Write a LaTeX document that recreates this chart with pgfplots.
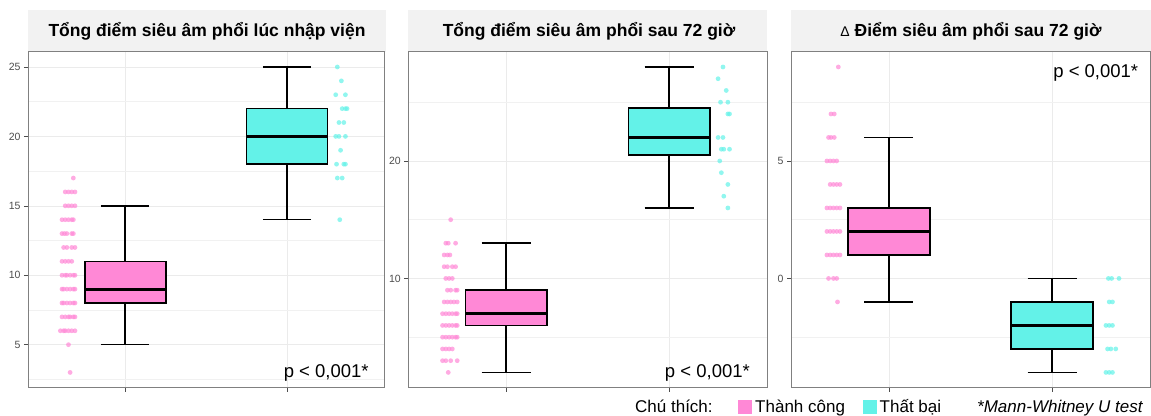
\documentclass[border=0pt]{standalone}
\usepackage{fontspec}
\setmainfont{Liberation Sans}
\usepackage{pgfplots}
\pgfplotsset{compat=1.18}
\usepgfplotslibrary{statistics}
\definecolor{tcpink}{HTML}{FF88D6}
\definecolor{tbcyan}{HTML}{63F2E8}
\definecolor{stripbg}{HTML}{F2F2F2}
\definecolor{panelborder}{HTML}{808080}
\definecolor{gridc}{HTML}{EBEBEB}
\definecolor{tickc}{HTML}{4D4D4D}

\pgfplotsset{
  facet/.style={
    scale only axis, height=336pt, anchor=south west,
    xmin=0.4, xmax=2.6,
    xtick={1,2}, xticklabels={},
    tick pos=left, tick align=outside,
    major tick length=4pt, minor tick length=0pt,
    tick style={draw=tickc, line width=0.6pt},
    axis line style={draw=panelborder, line width=0.8pt},
    grid=both,
    major grid style={draw=gridc, line width=0.6pt},
    minor grid style={draw=gridc!70, line width=0.4pt},
    yticklabel style={font=\fontsize{10.5}{12}\selectfont, text=tickc},
    /pgf/number format/assume math mode=true,
    boxplot/draw direction=y,
  },
  pdot/.style={only marks, mark=*, mark size=2.4pt, color=tcpink,
    mark options={draw opacity=0, fill=tcpink, fill opacity=0.7}},
  cdot/.style={only marks, mark=*, mark size=2.4pt, color=tbcyan,
    mark options={draw opacity=0, fill=tbcyan, fill opacity=0.7}},
  bx/.style={draw=black, line width=1.4pt, solid},
  boxplot/every box/.style={line width=1.7pt},
  boxplot/every whisker/.style={line width=1.4pt},
  boxplot/every median/.style={line width=3pt},
}
\newcommand{\pval}{\fontsize{18.5}{22}\selectfont}
\newcommand{\ttl}{\fontsize{17.5}{20}\selectfont\bfseries}

\begin{document}
\begin{tikzpicture}
\path[use as bounding box] (0pt,0pt) rectangle (1151pt,415pt);

% strips
\fill[stripbg] (28pt,363.3pt) rectangle (385.7pt,405pt);
\fill[stripbg] (408.3pt,363.3pt) rectangle (767pt,405pt);
\fill[stripbg] (791pt,363.3pt) rectangle (1151pt,405pt);
\node[anchor=base, font=\ttl] at (207pt,378.3pt) {Tổng điểm siêu âm phổi lúc nhập viện};
\node[anchor=base, font=\ttl] at (589pt,378.3pt) {Tổng điểm siêu âm phổi sau 72 giờ};
\node[anchor=base, font=\ttl] at (971pt,378.3pt) {{\mdseries\fontsize{14}{16}\selectfont Δ} Điểm siêu âm phổi sau 72 giờ};

% panel 1
\begin{axis}[facet, at={(28pt,27.3pt)}, width=356.3pt,
  ymin=1.9, ymax=26.1, ytick={5,10,15,20,25},
  minor ytick={2.5,7.5,12.5,17.5,22.5}]
\addplot[pdot] coordinates {
 (0.68,17)
 (0.63,16)(0.65,16)(0.67,16)(0.69,16)
 (0.63,15)(0.65,15)(0.67,15)(0.69,15)
 (0.61,14)(0.63,14)(0.65,14)(0.67,14)(0.68,14)
 (0.61,13)(0.625,13)(0.64,13)(0.67,13)(0.68,13)
 (0.62,12)(0.64,12)(0.67,12)(0.69,12)
 (0.61,11)(0.63,11)(0.65,11)(0.67,11)
 (0.61,10)(0.63,10)(0.64,10)(0.66,10)(0.68,10)(0.69,10)
 (0.61,9)(0.62,9)(0.64,9)(0.66,9)(0.68,9)(0.69,9)
 (0.61,8)(0.62,8)(0.64,8)(0.66,8)(0.68,8)(0.69,8)
 (0.61,7)(0.63,7)(0.65,7)(0.66,7)(0.68,7)(0.69,7)
 (0.60,6)(0.62,6)(0.63,6)(0.65,6)(0.67,6)(0.69,6)
 (0.65,5)(0.66,3)};
\addplot[cdot] coordinates {
 (2.31,25)(2.335,24)(2.30,23)(2.36,23)(2.34,22)(2.36,22)(2.37,22)
 (2.32,21)(2.35,21)(2.30,20)(2.32,20)(2.36,20)(2.33,19)
 (2.305,18)(2.35,18)(2.36,18)(2.31,17)(2.34,17)(2.325,14)};
\addplot[bx, fill=tcpink, boxplot prepared={draw position=1,
  lower whisker=5, lower quartile=8, median=9, upper quartile=11,
  upper whisker=15, box extend=0.5, whisker extend=0.3}] coordinates {};
\addplot[bx, fill=tbcyan, boxplot prepared={draw position=2,
  lower whisker=14, lower quartile=18, median=20, upper quartile=22,
  upper whisker=25, box extend=0.5, whisker extend=0.3}] coordinates {};
\node[anchor=base east, font=\pval] at (axis description cs:0.966,0.030) {p < 0,001*};
\end{axis}

% panel 2
\begin{axis}[facet, at={(408.3pt,27.3pt)}, width=358.7pt,
  ymin=0.7, ymax=29.3, ytick={10,20}, minor ytick={5,15,25}]
\addplot[pdot] coordinates {
 (0.66,15)
 (0.63,13)(0.645,13)(0.69,13)
 (0.62,12)(0.64,12)(0.655,12)
 (0.62,11)(0.64,11)(0.67,11)(0.69,11)
 (0.63,10)(0.65,10)(0.67,10)
 (0.64,9)(0.66,9)(0.69,9)(0.70,9)
 (0.62,8)(0.64,8)(0.66,8)(0.68,8)(0.70,8)
 (0.61,7)(0.63,7)(0.65,7)(0.67,7)(0.69,7)(0.70,7)
 (0.61,6)(0.63,6)(0.65,6)(0.67,6)(0.69,6)(0.70,6)
 (0.61,5)(0.63,5)(0.65,5)(0.67,5)(0.69,5)(0.70,5)
 (0.61,4)(0.63,4)(0.65,4)(0.67,4)
 (0.61,3)(0.63,3)(0.66,3)(0.70,3)
 (0.645,2)};
\addplot[cdot] coordinates {
 (2.33,28)(2.30,27)(2.35,26)(2.315,25)(2.36,25)(2.36,24)(2.37,24)
 (2.30,22)(2.33,22)(2.32,21)(2.335,21)(2.37,21)(2.31,20)(2.32,19)
 (2.36,18)(2.335,17)(2.36,16)};
\addplot[bx, fill=tcpink, boxplot prepared={draw position=1,
  lower whisker=2, lower quartile=6, median=7, upper quartile=9,
  upper whisker=13, box extend=0.5, whisker extend=0.3}] coordinates {};
\addplot[bx, fill=tbcyan, boxplot prepared={draw position=2,
  lower whisker=16, lower quartile=20.5, median=22, upper quartile=24.5,
  upper whisker=28, box extend=0.5, whisker extend=0.3}] coordinates {};
\node[anchor=base east, font=\pval] at (axis description cs:0.962,0.030) {p < 0,001*};
\end{axis}

% panel 3
\begin{axis}[facet, at={(791pt,27.3pt)}, width=359pt,
  ymin=-4.65, ymax=9.65, ytick={0,5}, minor ytick={-2.5,2.5,7.5}]
\addplot[pdot] coordinates {
 (0.69,9)
 (0.645,7)(0.665,7)
 (0.63,6)(0.645,6)(0.665,6)
 (0.62,5)(0.64,5)(0.66,5)(0.68,5)
 (0.64,4)(0.66,4)(0.68,4)(0.70,4)
 (0.62,3)(0.64,3)(0.66,3)(0.68,3)(0.70,3)
 (0.62,2)(0.64,2)(0.66,2)(0.68,2)(0.70,2)
 (0.62,1)(0.64,1)(0.66,1)(0.68,1)(0.70,1)
 (0.63,0)(0.66,0)(0.68,0)
 (0.685,-1)};
\addplot[cdot] coordinates {
 (2.345,0)(2.365,0)(2.41,0)(2.35,-1)(2.37,-1)
 (2.33,-2)(2.35,-2)(2.37,-2)(2.34,-3)(2.36,-3)(2.39,-3)
 (2.33,-4)(2.35,-4)(2.37,-4)};
\addplot[bx, fill=tcpink, boxplot prepared={draw position=1,
  lower whisker=-1, lower quartile=1, median=2, upper quartile=3,
  upper whisker=6, box extend=0.5, whisker extend=0.3}] coordinates {};
\addplot[bx, fill=tbcyan, boxplot prepared={draw position=2,
  lower whisker=-4, lower quartile=-3, median=-2, upper quartile=-1,
  upper whisker=0, box extend=0.5, whisker extend=0.3}] coordinates {};
\node[anchor=base east, font=\pval] at (axis description cs:0.977,0.923) {p < 0,001*};
\end{axis}

% legend
\node[anchor=base west, font=\fontsize{17}{20}\selectfont, inner sep=0pt] at (635pt,2pt) {Chú thích:};
\fill[tcpink] (738.3pt,1pt) rectangle (752pt,15pt);
\node[anchor=base west, font=\fontsize{17}{20}\selectfont, inner sep=0pt] at (755pt,2pt) {Thành công};
\fill[tbcyan] (863pt,1pt) rectangle (877pt,15pt);
\node[anchor=base west, font=\fontsize{17}{20}\selectfont, inner sep=0pt] at (879.5pt,2pt) {Thất bại};
\node[anchor=base west, font=\fontsize{17}{20}\selectfont\itshape, inner sep=0pt] at (977pt,2pt) {*Mann-Whitney U test};
\end{tikzpicture}
\end{document}
